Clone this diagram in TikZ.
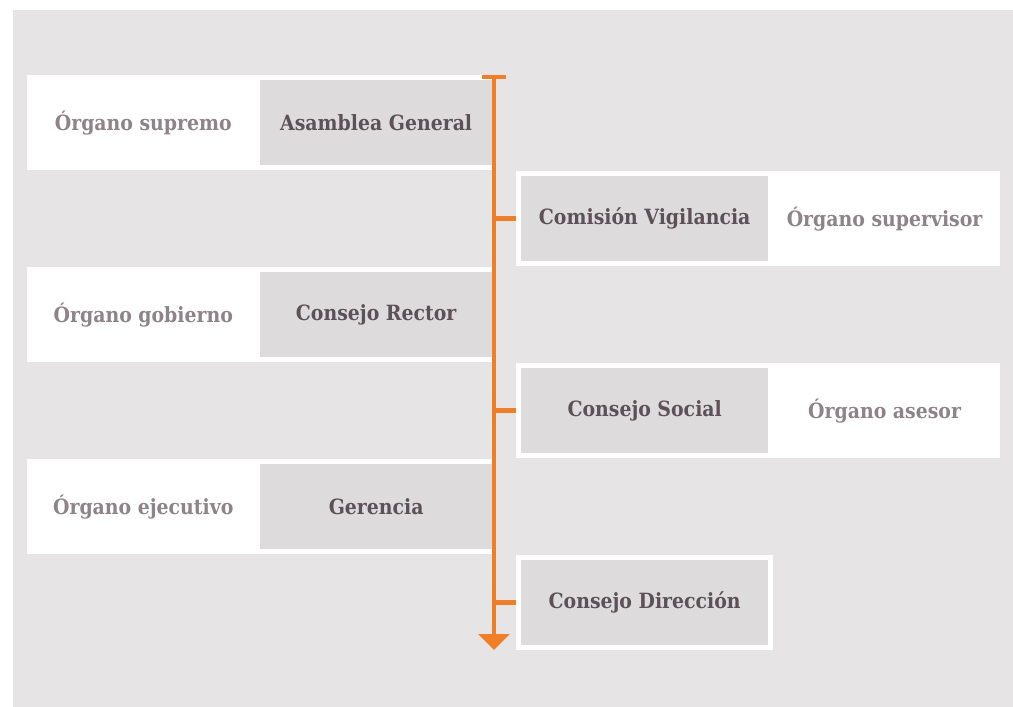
\documentclass[tikz,border=0pt]{standalone}
\usepackage{fontspec}
\setmainfont{DejaVu Serif Condensed}
\usetikzlibrary{positioning,arrows.meta}

\definecolor{fondo}{HTML}{E6E4E5}
\definecolor{gris}{HTML}{DDDBDC}
\definecolor{naranja}{HTML}{F07E26}
\definecolor{oscuro}{HTML}{5D5158}
\definecolor{claro}{HTML}{8E8388}

\begin{document}
\begin{tikzpicture}[x=1pt, y=-1pt]
\tikzset{
   banda/.style={rectangle, fill=white, inner sep=0pt, minimum height=95pt},
   organo/.style={rectangle, fill=gris, text=oscuro, inner sep=0pt, minimum width=247pt, minimum height=85pt, font=\fontsize{21}{24}\selectfont\bfseries},
   organoizq/.style={organo, minimum width=232pt},
   rol/.style={rectangle, text=claro, inner sep=0pt, minimum width=232pt, minimum height=85pt, font=\fontsize{21}{24}\selectfont\bfseries},
   espina/.style={draw=naranja, line width=4.5pt},
}
\useasboundingbox (0,0) rectangle (1013,707);
\fill[white] (0,0) rectangle (1013,707);
\fill[fondo] (13,10) rectangle (1013,707);

% filas de la izquierda
\node[banda, minimum width=465pt, anchor=north west] (filaA) at (27,75) {};
\node[organoizq, anchor=east] (asamblea) at (filaA.east) {Asamblea General};
\node[rol, left=0pt of asamblea, minimum width=233pt] (supremo) {Órgano supremo};

\node[banda, minimum width=465pt, anchor=north west] (filaR) at (27,267) {};
\node[organoizq, anchor=east] (rector) at (filaR.east) {Consejo Rector};
\node[rol, left=0pt of rector, minimum width=233pt] (gobierno) {Órgano gobierno};

\node[banda, minimum width=465pt, anchor=north west] (filaG) at (27,459) {};
\node[organoizq, anchor=east] (gerencia) at (filaG.east) {Gerencia};
\node[rol, left=0pt of gerencia, minimum width=233pt] (ejecutivo) {Órgano ejecutivo};

% filas de la derecha
\node[banda, minimum width=484pt, anchor=north west] (filaV) at (516,171) {};
\node[organo, right=5pt of filaV.west] (vigilancia) {Comisión Vigilancia};
\node[rol, right=0pt of vigilancia] (supervisor) {Órgano supervisor};

\node[banda, minimum width=484pt, anchor=north west] (filaS) at (516,363) {};
\node[organo, right=5pt of filaS.west] (social) {Consejo Social};
\node[rol, right=0pt of social] (asesor) {Órgano asesor};

\node[banda, minimum width=257pt, anchor=north west] (filaD) at (516,555) {};
\node[organo, right=5pt of filaD.west] (direccion) {Consejo Dirección};

% eje central
\coordinate (arriba) at (494,77);
\coordinate (abajo) at (494,650);
\draw[espina] ([xshift=-12pt]arriba) -- ([xshift=12pt]arriba);
\draw[espina, -{Triangle[width=31pt, length=16pt]}] (arriba) -- (abajo);

\foreach \f in {filaV, filaS, filaD}
   \draw[espina] (arriba |- \f.west) -- (\f.west);

\end{tikzpicture}
\end{document}
